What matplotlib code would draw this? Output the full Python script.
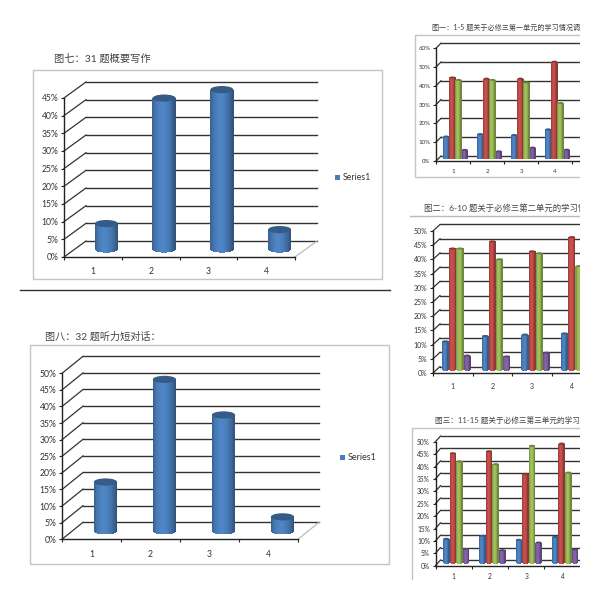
import numpy as np
import matplotlib
matplotlib.use('Agg')
import matplotlib.pyplot as plt
from matplotlib.colors import to_rgb
from matplotlib.patches import Ellipse, Rectangle
from matplotlib.transforms import offset_copy

plt.rcParams['font.family'] = ['Lato', 'Noto Sans CJK SC', 'DejaVu Sans']

## Data
cats = ['1', '2', '3', '4']

# big single series charts
q31_vals = [7.2, 42.7, 45.1, 5.5]
q32_vals = [14.7, 45.6, 34.9, 4.2]

# small four series charts, values in %
unit1_blue = [11.7, 13, 12.5, 15.5]
unit1_red = [43.1, 42.5, 42.5, 51.5]
unit1_green = [41.8, 41.8, 40.5, 29.5]
unit1_purple = [4.6, 3.8, 5.8, 4.7]

unit2_blue = [10, 11.9, 12.4, 12.8]
unit2_red = [42.7, 45.2, 41.7, 46.7]
unit2_green = [42.7, 38.9, 41, 36.5]
unit2_purple = [5, 4.7, 6]  # 4th one is cut off in the picture

unit3_blue = [9.7, 10.9, 9.3, 10.5]
unit3_red = [44.2, 45, 35.9, 48.1]
unit3_green = [40.9, 39.8, 47.2, 36.4]
unit3_purple = [5.6, 5.1, 8.2, 5.4]

BLUE = '#4a7ebb'
RED = '#be4b48'
GREEN = '#98b855'
PURPLE = '#7d5fa0'

fig = plt.figure(figsize=(6, 6), dpi=100, facecolor='white')

# overlay in pixel coords for frames, titles, legends
back = fig.add_axes([0, 0, 1, 1], zorder=0)
back.set_xlim(0, 600)
back.set_ylim(600, 0)
back.axis('off')


def cylinder(ax, trans, x, val, w, ry, color, px_w, px_h):
    # w, ry in pixels, px_w / px_h are pixels per data unit
    base = np.array(to_rgb(color))
    # solid bar first, thin strips alone would let the white through
    ax.bar(x, val, width=w / px_w, color=base * 0.85, linewidth=0, transform=trans,
           zorder=3, clip_on=False)
    n = 24 if w > 10 else 6
    for i in range(n):
        t = (i + 0.5) / n * 2 - 1
        shade = 1.06 - 0.36 * abs(t + 0.1) ** 1.8
        c = np.clip(base * shade, 0, 1)
        drop = ry * np.sqrt(1 - t * t) / px_h
        ax.bar(x + t * w / 2 / px_w, val + drop, width=1.6 * w / n / px_w, bottom=-drop,
               color=c, linewidth=0, transform=trans, zorder=3, clip_on=False)
    ax.add_patch(Ellipse((x, val), w / px_w, 2 * ry / px_h, facecolor=base * 0.72,
                         edgecolor='none', transform=trans, zorder=4, clip_on=False))


def chart(x0, y0, cat_w, n_cat, step_px, vmax, step, dx, dy, label_size, label_off):
    # x0, y0 = pixel of the front 0% corner
    h = step_px * vmax / step
    w = cat_w * n_cat
    ax = fig.add_axes([x0 / 600, 1 - y0 / 600, w / 600, h / 600], zorder=1)
    ax.patch.set_alpha(0)
    ax.set_xlim(0.5, 0.5 + n_cat)
    ax.set_ylim(0, vmax)
    for s in ['top', 'right']:
        ax.spines[s].set_visible(False)
    for s in ['left', 'bottom']:
        ax.spines[s].set_linewidth(1.0)
        ax.spines[s].set_color('#222222')
    ticks = np.arange(0, vmax + step, step)
    ax.set_yticks(ticks)
    ax.set_yticklabels(['%d%%' % t for t in ticks], fontsize=label_size, color='#333333')
    ax.set_xticks(np.arange(0.5, n_cat + 1))
    ax.set_xticklabels([])
    ax.tick_params(axis='both', length=2, width=0.8, color='#222222', pad=2)
    for i, c in enumerate(cats):
        ax.annotate(c, (i + 1, 0), xytext=(0, -label_off), textcoords='offset pixels',
                    ha='center', va='center', fontsize=label_size, color='#333333',
                    annotation_clip=False)
    wall = offset_copy(ax.transData, fig, x=dx, y=dy, units='dots')
    for t in ticks:
        ax.plot([0.5, 0.5 + n_cat], [t, t], color='#333333', lw=1.0, transform=wall,
                clip_on=False, zorder=1)
        ax.plot([0.5, 0.5 + dx / cat_w], [t, t + dy * step / step_px], color='#333333', lw=0.9,
                clip_on=False, zorder=1)
    # right floor edge is pale
    ax.plot([0.5 + n_cat, 0.5 + n_cat + dx / cat_w], [0, dy * step / step_px], color='#bbbbbb',
            lw=0.9, clip_on=False, zorder=1)
    return ax, cat_w, step_px / step


def single_chart(vals, x0, y0, cat_w, step_px, vmax, dx, dy, bar_off, bar_w, label_size):
    ax, px_w, px_h = chart(x0, y0, cat_w, 4, step_px, vmax, 5, dx, dy, label_size, 15)
    trans = offset_copy(ax.transData, fig, x=bar_off, y=dy / 2, units='dots')
    for i, v in enumerate(vals):
        cylinder(ax, trans, i + 1, v, bar_w, 3.6, BLUE, px_w, px_h)
    return ax


def multi_chart(series, x0, y0, cat_w, step_px, vmax, step, dx, dy, spacing, bar_w, label_size, label_off):
    ax, px_w, px_h = chart(x0, y0, cat_w, 5, step_px, vmax, step, dx, dy, label_size, label_off)
    trans = offset_copy(ax.transData, fig, x=dx / 2, y=dy / 2, units='dots')
    colors = [BLUE, RED, GREEN, PURPLE]
    for k, vals in enumerate(series):
        for i, v in enumerate(vals):
            xx = i + 1 + (k - 1.5) * spacing / px_w
            cylinder(ax, trans, xx, v, bar_w, 1.0, colors[k], px_w, px_h)
    return ax


def frame(x0, y0, x1, y1):
    back.add_patch(Rectangle((x0, y0), x1 - x0, y1 - y0, facecolor='white',
                             edgecolor='#c4c4c4', lw=1.0))


def legend_item(x, y, size):
    back.add_patch(Rectangle((x, y - 2.5), 5.5, 5.5, facecolor=BLUE, edgecolor='none'))
    back.text(x + 8, y, 'Series1', fontsize=size, color='#333333', va='center', ha='left')


def title(x, y, txt, size):
    back.text(x, y, txt, fontsize=size, color='#444444', va='center', ha='left')


## left hand charts
title(54, 59, '图七：31 题概要写作', 7.4)
frame(33, 70, 382, 279)
single_chart(q31_vals, 64, 257, 57.75, 17.67, 45, 22, 16, 13.5, 23, 6.2)
legend_item(334.5, 177, 6.3)

back.plot([20, 390], [290, 290], color='#333333', lw=1.0)

title(45, 337, '图八：32 题听力短对话：', 7.3)
frame(30, 345, 389, 564)
single_chart(q32_vals, 62, 539.3, 59, 16.6, 50, 21, 17, 14, 23.3, 6.2)
legend_item(339.5, 457, 6.5)

## right hand charts, cut at the page edge
title(432, 27, '图一：1-5 题关于必修三第一单元的学习情况调', 5.1)
frame(415, 35, 640, 177)
multi_chart([unit1_blue, unit1_red, unit1_green, unit1_purple],
            436, 161, 34, 18.8, 60, 10, 5, 5, 6.2, 5.7, 4.4, 10.5)

title(424, 208, '图二：6-10 题关于必修三第二单元的学习情', 6.0)
back.plot([410, 600], [216, 216], color='#bbbbbb', lw=1.0)
multi_chart([unit2_blue, unit2_red, unit2_green, unit2_purple],
            433, 373, 39.7, 14.2, 50, 5, 7, 6.5, 7.2, 6.5, 5, 13.5)

title(435, 421, '图三：11-15 题关于必修三第三单元的学习情', 5.5)
back.plot([412, 412, 600], [579, 428, 428], color='#c4c4c4', lw=1.0)
multi_chart([unit3_blue, unit3_red, unit3_green, unit3_purple],
            435.5, 565.7, 36.3, 12.4, 50, 5, 5, 5.7, 6.6, 6, 4.8, 11)

# white strip hides whatever runs past the crop
front = fig.add_axes([0, 0, 1, 1], zorder=5)
front.set_xlim(0, 600)
front.set_ylim(600, 0)
front.axis('off')
front.add_patch(Rectangle((580, 0), 20, 600, facecolor='white', edgecolor='none'))

fig.savefig('out.png', dpi=100)
